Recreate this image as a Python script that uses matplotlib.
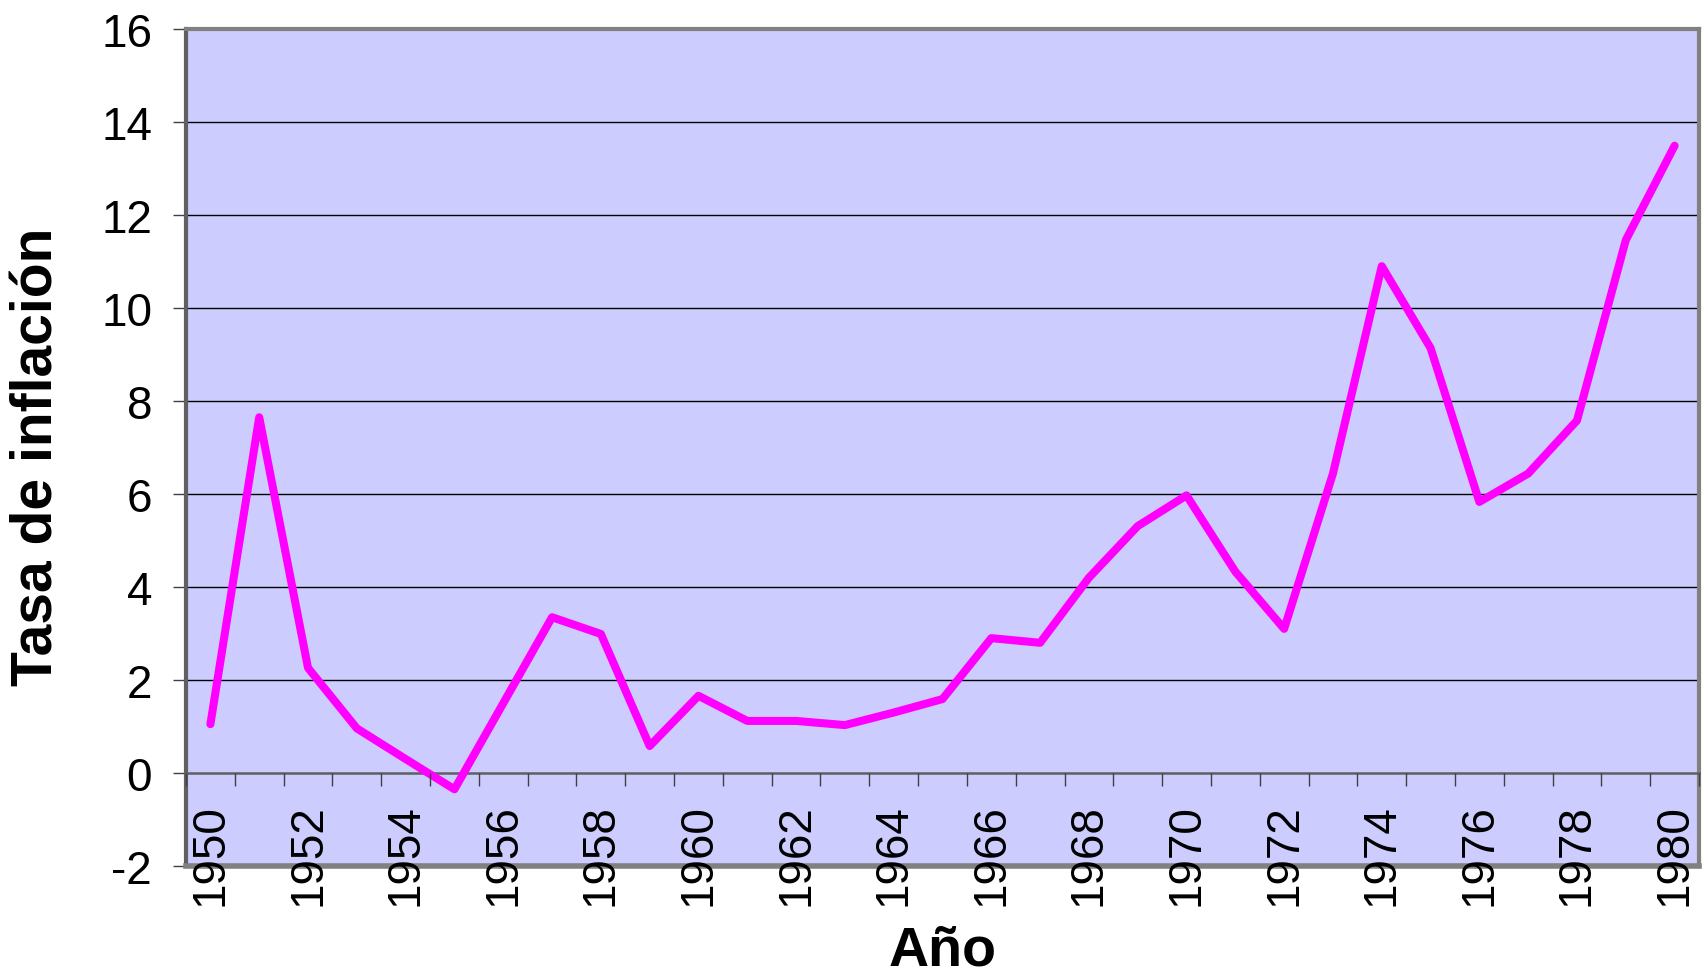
import matplotlib.pyplot as plt
import numpy as np

# Tasa de inflación por año
years = list(range(1950, 1981))
inflation = [1.05, 7.65, 2.26, 0.96, 0.3, -0.35, 1.5, 3.35, 2.99, 0.58,
             1.66, 1.12, 1.12, 1.03, 1.3, 1.59, 2.9, 2.8, 4.2, 5.31,
             5.97, 4.33, 3.1, 6.44, 10.9, 9.14, 5.83, 6.44, 7.58, 11.46,
             13.49]
y_ticks = [-2, 0, 2, 4, 6, 8, 10, 12, 14, 16]

plt.rcParams['font.family'] = ['Liberation Sans', 'DejaVu Sans']
plt.rcParams['axes.unicode_minus'] = False

fig = plt.figure(figsize=(17.08, 9.79), dpi=100)
ax = fig.add_axes([186 / 1708, 1 - 867 / 979, 1513 / 1708, 837 / 979])
ax.set_facecolor('#CCCCFF')

x = np.arange(len(years))
ax.plot(x, inflation, color='#FF00FF', lw=5.8, solid_capstyle='round',
        solid_joinstyle='round', zorder=5)

ax.set_xlim(-0.5, len(years) - 0.5)
ax.set_ylim(-2, 16)

# eje y
ax.set_yticks(y_ticks)
ax.set_yticklabels([str(v) for v in y_ticks])
ax.tick_params(axis='y', direction='out', length=9.4, width=1, color='#404040',
               labelsize=33, pad=15)
for v in y_ticks[2:-1]:
    ax.axhline(v, color='black', lw=1, zorder=2)

# eje x en y=0, marcas entre categorías
ax.spines['bottom'].set_position(('data', 0))
ax.spines['bottom'].set_color('#606060')
ax.spines['bottom'].set_linewidth(1.8)
ax.set_xticks(x[::2])
ax.set_xticklabels([str(y) for y in years[::2]], rotation=90)
ax.set_xticks(np.arange(-0.5, len(years)), minor=True)
ax.tick_params(axis='x', which='major', length=0, labelsize=33, pad=22)
ax.tick_params(axis='x', which='minor', direction='out', length=9.4, width=1,
               color='#404040')
ax.xaxis.set_zorder(7)

# marco del área de trazado
for s in ['left', 'top', 'right']:
    ax.spines[s].set_color('#808080')
    ax.spines[s].set_linewidth(3)
ax.spines['left'].set_color('#606060')
ax.axhline(-2, color='#808080', lw=4, zorder=6, clip_on=False)

fig.text(38 / 1708, 1 - 457 / 979, 'Tasa de inflación', rotation=90,
         ha='center', va='center', fontsize=41, fontweight='bold')
fig.text(943 / 1708, 1 - 952 / 979, 'Año', ha='center', va='center',
         fontsize=40, fontweight='bold')

fig.savefig('out.png', dpi=100)
